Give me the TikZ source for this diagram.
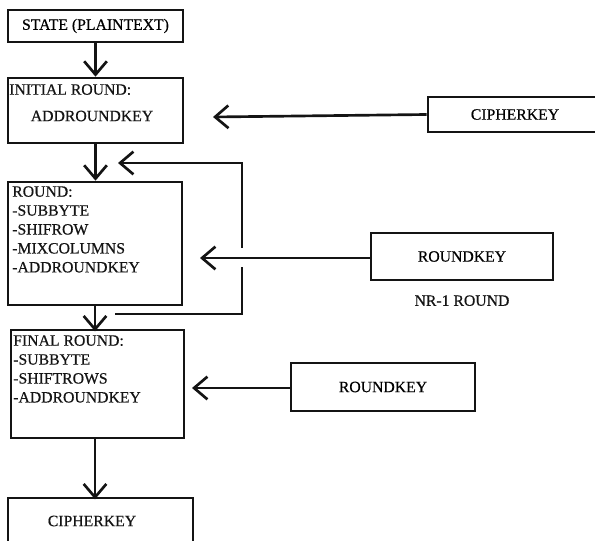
\documentclass[tikz,border=0pt]{standalone}
\usepackage{fontspec}
\setmainfont{Liberation Serif}[FakeBold=0.5]
\usepackage{tikz}
\usetikzlibrary{arrows.meta, positioning, calc}
\definecolor{mydark}{RGB}{20,20,20}
\tikzset{
  block/.style={rectangle, draw=mydark, fill=white, line width=2pt,
    inner sep=0pt, font=\fontsize{11.8}{14.2}\selectfont},
  blocktext/.style={inner sep=0pt, align=left, anchor=north west,
    font=\fontsize{11.8}{14.2}\selectfont, color=mydark},
  plain/.style={font=\fontsize{11.8}{14.2}\selectfont, color=mydark},
  arrow/.style={-{Straight Barb[length=10pt, width=17pt, line width=2pt]}, line width=2pt, color=mydark},
  line/.style={line width=2pt, color=mydark}
}

\begin{document}
\begin{tikzpicture}[x=0.75pt, y=-0.75pt]
  \clip (0,0) rectangle (595,541);
  \fill[white] (0,0) rectangle (595,541);

  % main column
  \node[block, minimum width=175*0.75pt, minimum height=32*0.75pt] (state) at (95.5,26) {STATE (PLAINTEXT)};
  \node[block, minimum width=175*0.75pt, minimum height=65*0.75pt] (init) at (95.5,110.5) {};
  \node[blocktext] (initt) at (9,84) {INITIAL ROUND:};
  \node[plain] (inita) at (92,116) {ADDROUNDKEY};
  \node[block, minimum width=174*0.75pt, minimum height=123*0.75pt] (round) at (95,243.5) {};
  \node[blocktext] (roundt) at (12,186) {ROUND:\\-SUBBYTE\\-SHIFROW\\-MIXCOLUMNS\\-ADDROUNDKEY};
  \node[block, minimum width=173*0.75pt, minimum height=108*0.75pt] (final) at (97.5,384) {};
  \node[blocktext] (finalt) at (13,335) {FINAL ROUND:\\-SUBBYTE\\-SHIFTROWS\\-ADDROUNDKEY};
  \node[block, minimum width=185*0.75pt, minimum height=48*0.75pt] (out) at (100.5,522) {};
  \node[plain] (outt) at (92,521) {CIPHERKEY};

  % key boxes
  \node[block, minimum width=174*0.75pt, minimum height=35*0.75pt] (ckey) at (515,114.5) {CIPHERKEY};
  \node[block, minimum width=182*0.75pt, minimum height=47*0.75pt] (rkey) at (462,256.5) {ROUNDKEY};
  \node[plain, below=7pt of rkey] (nr) {NR-1 ROUND};
  \node[block, minimum width=184*0.75pt, minimum height=48*0.75pt] (rkeyb) at (383,387) {ROUNDKEY};

  \coordinate (ctip) at (213,117);
  \coordinate (rtip) at (200,258);
  \coordinate (ftip) at (192,388);
  \coordinate (lpA) at (115,314);
  \coordinate (lpB) at (242,314);
  \coordinate (lpC) at (242,267);
  \coordinate (lpD) at (242,248);
  \coordinate (lpE) at (242,163);
  \coordinate (lpF) at (118,163);

  \draw[arrow] (state.south) -- (init.north);
  \draw[arrow] (init.south) -- (init.south |- round.north);
  \draw[arrow] (round.south) -- ([yshift=-2pt]round.south |- final.north);
  \draw[arrow] (round.south |- final.south) -- ([yshift=-2pt]round.south |- out.north);

  \draw[arrow] (ckey.west) -- (ctip);
  \draw[arrow] (rkey.west |- rtip) -- (rtip);
  \draw[arrow] (rkeyb.west |- ftip) -- (ftip);

  % loop back for next round
  \draw[line] (lpA) -- (lpB) -- (lpC);
  \draw[arrow] (lpD) -- (lpE) -- (lpF);
\end{tikzpicture}
\end{document}
